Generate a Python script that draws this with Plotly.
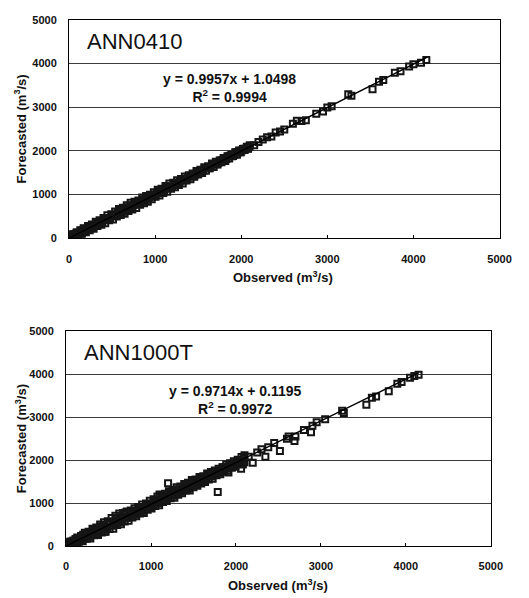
import plotly.graph_objects as go

# ---------------- data ----------------
titles = ["ANN0410", "ANN1000T"]
slopes = [0.9957, 0.9714]
intercepts = [1.0498, 0.1195]
r2_values = [0.9994, 0.9972]
tick_values = [0, 1000, 2000, 3000, 4000, 5000]
tick_labels = ["0", "1000", "2000", "3000", "4000", "5000"]

observed_a = [
    0, 15, 30, 50, 60, 90, 100, 140, 170,
    10, 45, 85, 130, 175, 220, 265, 310, 355, 400, 445, 490, 535, 580, 625, 670, 715, 760,
    805, 850, 895, 940, 985, 1030, 1075, 1120, 1165, 1210, 1255, 1300, 1345, 1390, 1435,
    1480, 1525, 1570, 1615, 1660, 1705, 1750, 1795, 1840, 1885, 1930, 1975, 2020, 2065, 2100,
    25, 65, 105, 150, 195, 240, 285, 330, 375, 420, 465, 510, 555, 600, 645, 690, 735, 780,
    825, 870, 915, 960, 1005, 1050, 1095, 1140, 1185, 1230, 1275, 1320, 1365, 1410, 1455,
    1500, 1545, 1590, 1635, 1680, 1725, 1770, 1815, 1860, 1905, 1950, 1995, 2040, 2080,
    5, 35, 70, 115, 160, 205, 250, 295, 340, 385, 430, 475, 520, 565, 610, 655, 700, 745,
    790, 835, 880, 925, 970, 1015, 1060, 1105, 1150, 1195, 1240, 1285, 1330, 1375, 1420,
    1465, 1510, 1555, 1600, 1645, 1690, 1735, 1780, 1825, 1870, 1915, 1960, 2005, 2050, 2095,
    55, 95, 140, 185, 230, 275, 320, 365, 410, 455, 500, 545, 590, 635, 680, 725, 770, 815,
    860, 905, 950, 995, 1040, 1085, 1130, 1175, 1220, 1265, 1310, 1355, 1400, 1445, 1490,
    1535, 1580, 1625, 1670, 1715, 1760, 1805, 1850, 1895, 1940, 1985, 2030, 2075,
    2150, 2200, 2250, 2300, 2350, 2400, 2450, 2500, 2600, 2646, 2700, 2750, 2871, 2950,
    3000, 3050, 3243, 3280, 3525, 3600, 3650, 3784, 3850, 3950, 4000, 4088, 4150,
]
forecast_a = [
    0, 50, 5, 90, 20, 140, 60, 100, 230,
    35, 85, 115, 185, 220, 280, 315, 380, 410, 465, 525, 550, 610, 670, 695, 755, 810, 835,
    865, 930, 965, 995, 1050, 1110, 1135, 1195, 1250, 1270, 1325, 1355, 1410, 1440, 1480,
    1540, 1565, 1625, 1650, 1710, 1750, 1780, 1835, 1875, 1910, 1970, 2005, 2040, 2095, 2125,
    10, 20, 55, 110, 135, 185, 215, 280, 310, 345, 410, 430, 495, 530, 560, 625, 660, 690,
    765, 800, 835, 895, 950, 980, 1035, 1065, 1135, 1165, 1220, 1250, 1320, 1350, 1405,
    1460, 1490, 1545, 1600, 1630, 1685, 1740, 1770, 1825, 1880, 1910, 1965, 2020, 2045,
    10, 25, 80, 110, 175, 190, 255, 285, 360, 380, 440, 455, 525, 580, 600, 660, 685, 755,
    785, 855, 870, 930, 955, 1025, 1085, 1100, 1160, 1175, 1245, 1300, 1320, 1375, 1430,
    1460, 1525, 1545, 1605, 1630, 1700, 1730, 1785, 1815, 1885, 1910, 1970, 2005, 2045, 2100,
    85, 70, 170, 160, 265, 245, 350, 335, 445, 425, 530, 515, 625, 605, 710, 695, 800, 785,
    890, 880, 980, 970, 1070, 1060, 1155, 1150, 1250, 1240, 1335, 1330, 1425, 1420, 1515,
    1510, 1605, 1600, 1690, 1695, 1780, 1785, 1870, 1875, 1960, 1970, 2050, 2060,
    2130, 2200, 2260, 2310, 2330, 2420, 2440, 2490, 2620, 2690, 2680, 2700, 2847, 2900,
    2990, 3020, 3296, 3260, 3408, 3580, 3620, 3789, 3820, 3930, 3980, 4013, 4080,
]

observed_b = [
    0, 20, 40, 60, 80, 110, 130, 170, 200,
    10, 45, 85, 130, 175, 220, 265, 310, 355, 400, 445, 490, 535, 580, 625, 670, 715, 760,
    805, 850, 895, 940, 985, 1030, 1075, 1120, 1165, 1210, 1255, 1300, 1345, 1390, 1435,
    1480, 1525, 1570, 1615, 1660, 1705, 1750, 1795, 1840, 1885, 1930, 1975, 2020, 2065, 2100,
    25, 65, 105, 150, 195, 240, 285, 330, 375, 420, 465, 510, 555, 600, 645, 690, 735, 780,
    825, 870, 915, 960, 1005, 1050, 1095, 1140, 1185, 1230, 1275, 1320, 1365, 1410, 1455,
    1500, 1545, 1590, 1635, 1680, 1725, 1770, 1815, 1860, 1905, 1950, 1995, 2040, 2080,
    5, 35, 70, 115, 160, 205, 250, 295, 340, 385, 430, 475, 520, 565, 610, 655, 700, 745,
    790, 835, 880, 925, 970, 1015, 1060, 1105, 1150, 1195, 1240, 1285, 1330, 1375, 1420,
    1465, 1510, 1555, 1600, 1645, 1690, 1735, 1780, 1825, 1870, 1915, 1960, 2005, 2050, 2095,
    55, 95, 140, 185, 230, 275, 320, 365, 410, 455, 500, 545, 590, 635, 680, 725, 770, 815,
    860, 905, 950, 995, 1040, 1085, 1130, 1175, 1220, 1265, 1310, 1355, 1400, 1445, 1490,
    1535, 1580, 1625, 1670, 1715, 1760, 1805, 1850, 1895, 1940, 1985, 2030, 2075,
    450, 700, 900, 1100, 1200, 1430, 1785, 1911, 2060, 2080, 2100, 2150, 2197, 2250, 2300,
    2346, 2380, 2450, 2517, 2600, 2620, 2689, 2700, 2800, 2883, 2900, 2950, 3050, 3250,
    3270, 3535, 3600, 3650, 3799, 3900, 3950, 4050, 4100, 4150,
]
forecast_b = [
    0, 60, 10, 100, 30, 160, 50, 120, 260,
    40, 95, 125, 195, 230, 305, 330, 400, 430, 500, 550, 575, 650, 705, 755, 770, 805, 825,
    880, 910, 965, 990, 1055, 1090, 1150, 1180, 1215, 1275, 1305, 1370, 1385, 1445, 1475,
    1535, 1550, 1605, 1625, 1685, 1725, 1755, 1800, 1835, 1895, 1925, 1975, 2010, 2075, 2115,
    5, 25, 40, 95, 110, 165, 175, 250, 255, 315, 330, 395, 400, 490, 505, 570, 585, 660,
    690, 755, 770, 845, 875, 930, 950, 1025, 1050, 1110, 1125, 1190, 1225, 1290, 1290,
    1365, 1400, 1455, 1490, 1550, 1565, 1645, 1670, 1730, 1750, 1820, 1845, 1920, 1920,
    5, 30, 75, 105, 170, 190, 250, 280, 345, 365, 425, 450, 515, 560, 585, 645, 670, 730,
    760, 820, 845, 905, 930, 990, 1040, 1065, 1125, 1145, 1210, 1250, 1280, 1335, 1385,
    1415, 1475, 1505, 1560, 1585, 1650, 1680, 1735, 1765, 1820, 1855, 1910, 1950, 1995, 2035,
    100, 50, 185, 135, 280, 215, 370, 300, 460, 380, 555, 470, 650, 560, 745, 655, 805, 735,
    890, 820, 970, 910, 1070, 1000, 1150, 1090, 1235, 1170, 1320, 1265, 1405, 1350, 1490,
    1445, 1580, 1530, 1660, 1620, 1745, 1705, 1835, 1800, 1915, 1885, 2005, 1975,
    330, 780, 820, 1200, 1460, 1324, 1255, 1712, 1800, 1900, 1950, 2080, 1940, 2180, 2250,
    2078, 2300, 2400, 2215, 2500, 2550, 2443, 2550, 2700, 2648, 2800, 2880, 2950, 3150,
    3100, 3288, 3450, 3480, 3607, 3780, 3820, 3920, 3960, 3990,
]

observed_sets = [observed_a, observed_b]
forecast_sets = [forecast_a, forecast_b]

# ---------------- layout geometry (pixels) ----------------
W, H = 529, 598
panels = [
    dict(x0=68, x1=511, ytop=14, ybot=237, eq_cx=233, xt_cx=288),
    dict(x0=65, x1=502, ytop=332, ybot=551, eq_cx=239, xt_cx=283),
]
FONT = "Liberation Sans, Arial, sans-serif"
INK = "#111111"

fig = go.Figure()
layout = dict(
    width=W, height=H, margin=dict(l=0, r=0, t=0, b=0),
    paper_bgcolor="white", plot_bgcolor="white", showlegend=False,
    font=dict(family=FONT, color=INK, size=11),
    annotations=[],
)

for i, p in enumerate(panels):
    sfx = "" if i == 0 else str(i + 1)
    xa, ya = "x" + sfx, "y" + sfx
    obs, fc = observed_sets[i], forecast_sets[i]
    fig.add_trace(go.Scatter(
        x=obs, y=fc, mode="markers", xaxis=xa, yaxis=ya,
        marker=dict(symbol="square-open", size=6, color="#151515", line=dict(width=2)),
    ))
    xmin, xmax = min(obs), max(obs)
    fig.add_trace(go.Scatter(
        x=[xmin, xmax],
        y=[slopes[i] * xmin + intercepts[i], slopes[i] * xmax + intercepts[i]],
        mode="lines", xaxis=xa, yaxis=ya, line=dict(color="black", width=1.5),
    ))
    xdom = [p["x0"] / W, p["x1"] / W]
    ydom = [1 - p["ybot"] / H, 1 - p["ytop"] / H]
    tf = dict(size=11, family=FONT, color=INK, weight="bold")
    layout["xaxis" + sfx] = dict(
        domain=xdom, range=[0, 5000], tickvals=tick_values, ticktext=tick_labels,
        showgrid=False, zeroline=False, showline=True, linecolor="black", linewidth=1.2,
        mirror=True, ticks="inside", ticklen=3, tickcolor="black",
        ticklabelstandoff=10, tickfont=tf, anchor=ya, fixedrange=True,
    )
    layout["yaxis" + sfx] = dict(
        domain=ydom, range=[0, 5000], tickvals=tick_values, ticktext=tick_labels,
        showgrid=True, gridcolor="#3a3a3a", gridwidth=1, zeroline=False,
        showline=True, linecolor="black", linewidth=1.2, mirror=True,
        ticks="", ticklabelstandoff=9, tickfont=tf, anchor=xa, fixedrange=True,
    )
    ann = layout["annotations"]
    ann.append(dict(text=titles[i], xref="paper", yref="paper",
                    x=(p["x0"] + 16) / W, y=1 - (p["ytop"] + 22) / H,
                    xanchor="left", yanchor="middle", showarrow=False,
                    font=dict(size=22, family=FONT, color=INK)))
    ann.append(dict(text=f"y = {slopes[i]:.4f}x + {intercepts[i]:.4f}<br>R<sup>2</sup> = {r2_values[i]:.4f}",
                    xref="paper", yref="paper",
                    x=p["eq_cx"] / W, y=1 - (p["ytop"] + 70) / H,
                    xanchor="center", yanchor="middle", showarrow=False, align="center",
                    font=dict(size=14, family=FONT, color=INK, weight="bold")))
    ann.append(dict(text="Observed (m<sup>3</sup>/s)", xref="paper", yref="paper",
                    x=p["xt_cx"] / W, y=1 - (p["ybot"] + 40) / H,
                    xanchor="center", yanchor="middle", showarrow=False,
                    font=dict(size=13, family=FONT, color=INK, weight="bold")))
    ann.append(dict(text="Forecasted (m<sup>3</sup>/s)", xref="paper", yref="paper",
                    x=18 / W, y=1 - (p["ytop"] + p["ybot"]) / 2 / H, textangle=-90,
                    xanchor="center", yanchor="middle", showarrow=False,
                    font=dict(size=13, family=FONT, color=INK, weight="bold")))

fig.update_layout(**layout)
fig.write_html(
    "out.html",
    config={"displayModeBar": False},
    post_script="document.body.style.margin='0px';document.body.style.overflow='hidden';",
)
